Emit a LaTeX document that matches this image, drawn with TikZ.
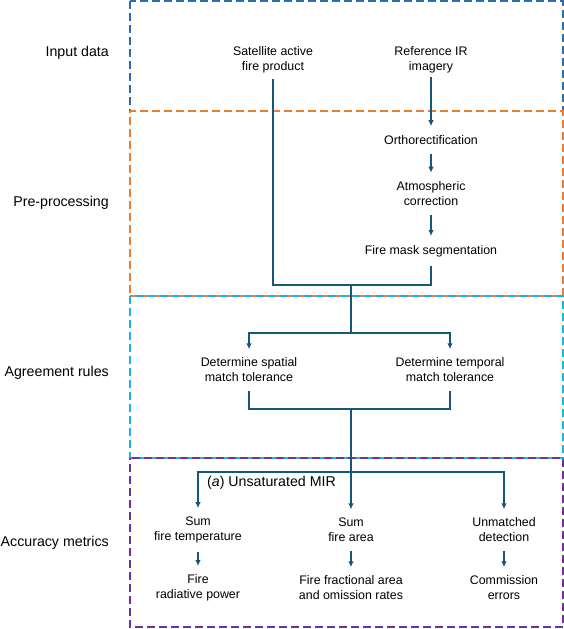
\documentclass[tikz,border=0pt]{standalone}
\usepackage{fontspec}
\setmainfont{Liberation Sans}
\usetikzlibrary{arrows.meta}
\definecolor{inputblue}{RGB}{46,108,176}
\definecolor{preorange}{RGB}{237,125,49}
\definecolor{rulecyan}{RGB}{30,178,235}
\definecolor{metricpurple}{RGB}{112,48,160}
\definecolor{flowblue}{RGB}{22,86,122}
\tikzstyle{stageframe}=[line width=1.5pt,dash pattern=on 8pt off 4pt]
\tikzstyle{stagelabel}=[anchor=east,inner sep=0pt,font=\fontsize{14.2}{17}\selectfont]
\tikzstyle{flownode}=[align=center,inner xsep=0pt,inner ysep=8.5pt,font=\fontsize{12.4}{15}\selectfont]
\tikzstyle{flowline}=[draw=flowblue,line width=1.5pt]
\tikzstyle{flowarrow}=[flowline,-{Latex[length=6pt,width=5.5pt]}]
\newcommand{\drawstage}[7][0]{% Syntax: [dash phase] {colour} {top} {bottom} {label y} {name} {label}
  \draw[stageframe,draw=#2,dash phase=#1pt] (130,#3) rectangle (563,#4);
  \node[stagelabel] (#6) at (109,#5) {#7};
}
\begin{document}
\begin{tikzpicture}[x=1pt,y=-1pt]
	\useasboundingbox (0,0) rectangle (564,629);
	% stages, top to bottom
	\drawstage{inputblue}{1}{111}{53}{input}{Input data}
	\drawstage[6]{preorange}{111}{296}{203}{prepro}{Pre-processing}
	\drawstage{rulecyan}{296}{458}{373}{agree}{Agreement rules}
	\drawstage[6]{metricpurple}{458}{627}{543}{metrics}{Accuracy metrics}
	% input data and pre-processing
	\node[flownode,inner ysep=6pt] (sat) at (273,60) {Satellite active\\fire product};
	\node[flownode,inner ysep=4pt] (ref) at (431,60) {Reference IR\\imagery};
	\node[flownode,inner ysep=9pt] (ortho) at (431,140) {Orthorectification};
	\node[flownode,inner ysep=9pt] (atmos) at (431,194) {Atmospheric\\correction};
	\node[flownode,inner ysep=9pt] (mask) at (431,251) {Fire mask segmentation};
	\draw[flowarrow] (ref) -- (ortho);
	\draw[flowarrow] (ortho) -- (atmos);
	\draw[flowarrow] (atmos) -- (mask);
	\coordinate (merge) at (351,285);
	\coordinate (split) at (351,333);
	\draw[flowline] (sat) |- (merge) -| (mask);
	\draw[flowline] (merge) -- (split);
	% agreement rules
	\node[flownode] (spatial) at (249,370) {Determine spatial\\match tolerance};
	\node[flownode] (temporal) at (450,370) {Determine temporal\\match tolerance};
	\draw[flowarrow] (split) -| (spatial);
	\draw[flowarrow] (split) -| (temporal);
	\coordinate (gather) at (351,409);
	\coordinate (fanout) at (351,472);
	\draw[flowline] (spatial) |- (gather) -| (temporal);
	\draw[flowline] (gather) -- (fanout);
	% accuracy metrics
	\node[anchor=west,inner sep=0pt,font=\fontsize{14.2}{17}\selectfont] (mir) at (207,483) {(\textit{a}) Unsaturated MIR};
	\node[flownode] (sumtemp) at (198,530) {Sum\\fire temperature};
	\node[flownode] (sumarea) at (351,530) {Sum\\fire area};
	\node[flownode] (unmatched) at (504,530) {Unmatched\\detection};
	\node[flownode] (frp) at (198,588) {Fire\\radiative power};
	\node[flownode] (ffa) at (351,588) {Fire fractional area\\and omission rates};
	\node[flownode] (commission) at (504,588) {Commission\\errors};
	\draw[flowarrow] (fanout) -| (sumtemp);
	\draw[flowarrow] (fanout) -- (sumarea);
	\draw[flowarrow] (fanout) -| (unmatched);
	\draw[flowarrow] (sumtemp) -- (frp);
	\draw[flowarrow] (sumarea) -- (ffa);
	\draw[flowarrow] (unmatched) -- (commission);
\end{tikzpicture}
\end{document}
